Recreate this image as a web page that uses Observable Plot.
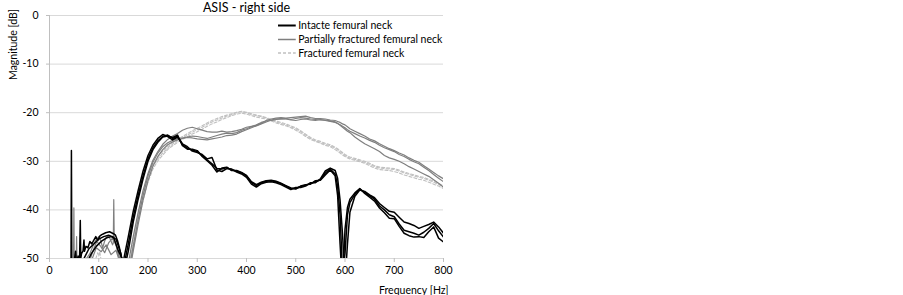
<!DOCTYPE html>
<html>
<head>
<meta charset="utf-8">
<script src="https://cdn.jsdelivr.net/npm/d3@7"></script>
<script src="https://cdn.jsdelivr.net/npm/@observablehq/plot@0.6"></script>
<style>
  html, body { margin: 0; padding: 0; background: #fff; }
  svg { font-family: Lato, "Open Sans", sans-serif; }
</style>
</head>
<body>
<div id="chart"></div>
<script>
const titleText = "ASIS - right side";
const yLabel = "Magnitude [dB]";
const xLabel = "Frequency [Hz]";
const legendLabels = ["Intacte femural neck", "Partially fractured femural neck", "Fractured femural neck"];
const xTicks = [0, 100, 200, 300, 400, 500, 600, 700, 800];
const yTicks = [0, -10, -20, -30, -40, -50];

// shared frequency grid (Hz) for the main part of every curve
const freqMain = [150,160,170,180,190,200,210,220,230,240,250,260,270,280,290,300,310,320,330,340,350,360,370,380,390,400,410,420,430,440,450,460,470,480,490,500,510,520,530,540,550,560,570,580,585,590,595,600,605,610,620,630,640,650,660,670,680,690,700,710,720,730,740,750,760,770,780,790,800];

// Intact femoral neck (3 measurements)
const intact1 = [-52,-47,-41.5,-37,-33,-29.5,-27.2,-25.8,-24.9,-24.6,-25.3,-24.8,-26.6,-27.3,-27.7,-28.0,-28.8,-29.7,-30.5,-31.5,-31.6,-31.3,-31.8,-32.0,-32.4,-33.0,-34.4,-35.0,-34.4,-34.1,-34.0,-34.2,-34.6,-35.1,-35.6,-35.6,-35.2,-34.9,-34.6,-34.2,-33.8,-32.4,-31.6,-32.6,-35,-41,-53,-49,-41,-38.5,-36.8,-35.7,-36.4,-37.1,-37.8,-39.2,-40.0,-41.0,-41.4,-42.9,-44.2,-44.5,-44.8,-45.2,-44.6,-43.8,-42.8,-44.3,-45.6];
const intact2 = [-50.5,-45.5,-40.3,-36,-32,-28.8,-26.7,-25.3,-24.5,-24.9,-25.6,-25.0,-26.4,-27.0,-27.9,-28.2,-28.6,-29.5,-29.2,-31.8,-32.1,-31.5,-31.6,-32.2,-32.6,-33.3,-34.7,-35.3,-34.6,-34.3,-34.2,-34.4,-34.8,-35.3,-35.8,-35.4,-35.4,-35.1,-34.4,-34.4,-33.6,-32.0,-31.4,-31.9,-33.5,-38,-45,-55,-47,-40.5,-37.2,-35.9,-36.2,-36.9,-37.5,-38.7,-39.5,-40.3,-40.5,-41.5,-42.5,-42.8,-43.2,-43.8,-43.4,-43.0,-42.5,-43.5,-44.8];
const intact3 = [-53,-48.5,-42.5,-37.8,-33.6,-30.0,-27.6,-26.1,-25.0,-24.8,-25.1,-24.6,-26.8,-27.5,-27.5,-27.8,-29.0,-29.9,-30.8,-32.2,-31.4,-31.2,-31.9,-31.9,-32.3,-32.9,-34.2,-34.8,-34.3,-34.0,-33.9,-34.1,-34.5,-35.0,-35.5,-35.7,-35.1,-34.8,-34.7,-34.0,-33.9,-32.8,-31.8,-33.0,-37,-47,-56,-44,-39.5,-37.8,-36.5,-35.6,-36.6,-37.4,-38.2,-39.6,-40.6,-41.7,-41.8,-43.4,-44.8,-45.3,-45.6,-45.5,-45.7,-44.5,-43.5,-45.8,-46.6];

// Partially fractured femoral neck (3 measurements)
const partial1 = [-56,-51,-45.5,-40.5,-36,-32.5,-29.8,-28,-26.5,-25.5,-24.8,-24.3,-23.6,-23.2,-23.0,-23.3,-23.6,-23.9,-24.0,-24.0,-23.8,-24.0,-23.9,-23.7,-23.4,-23.0,-22.8,-22.6,-22.2,-21.6,-21.3,-21.1,-21.0,-21.1,-21.0,-20.9,-20.8,-20.7,-21.0,-21.2,-21.2,-21.3,-21.5,-21.6,-21.8,-22.0,-22.3,-22.5,-22.9,-23.3,-23.8,-24.3,-24.8,-25.4,-25.8,-26.4,-26.9,-27.4,-27.8,-28.3,-28.7,-29.3,-29.8,-30.2,-30.9,-31.6,-32.3,-33.0,-33.6];
const partial2 = [-57,-53,-47.5,-42,-37,-33,-30.2,-28.3,-27.0,-26.2,-25.7,-25.4,-25.2,-25.0,-24.8,-24.9,-25.1,-25.3,-25.0,-24.7,-24.4,-24.2,-24.3,-24.1,-23.6,-23.3,-22.9,-22.5,-22.0,-21.7,-21.6,-21.4,-21.3,-21.2,-21.4,-21.2,-21.0,-21.1,-21.3,-21.4,-21.5,-21.6,-21.8,-22.0,-22.2,-22.5,-22.8,-23.1,-23.5,-23.8,-24.3,-24.8,-25.2,-25.7,-26.1,-26.7,-27.2,-27.6,-28.0,-28.6,-29.0,-29.6,-30.1,-30.5,-31.2,-31.9,-32.7,-33.5,-34.2];
const partial3 = [-58,-54,-48.5,-43,-38,-34,-31,-29,-27.6,-26.6,-26.0,-25.6,-25.3,-25.1,-25.2,-25.4,-25.5,-25.6,-25.4,-25.2,-25.0,-24.7,-24.6,-24.4,-23.9,-23.5,-23.1,-22.7,-22.3,-21.9,-21.5,-21.3,-21.2,-21.3,-21.5,-21.6,-21.4,-21.3,-21.5,-21.6,-21.4,-21.5,-21.7,-21.9,-22.2,-22.6,-23.0,-23.4,-23.8,-24.1,-25.0,-25.7,-26.4,-26.9,-27.4,-28.0,-28.8,-29.3,-29.6,-30.0,-30.5,-31.1,-31.6,-32.1,-32.6,-33.1,-33.8,-34.5,-35.3];

// Fractured femoral neck (3 measurements)
const fractured1 = [-58,-53,-47,-41.5,-37,-33.5,-31,-29.5,-28.3,-27.3,-26.5,-25.8,-25.2,-24.6,-24.0,-23.5,-23.0,-22.4,-21.9,-21.5,-21.1,-20.7,-20.4,-20.0,-19.8,-20.0,-20.4,-20.6,-20.8,-21.1,-21.5,-21.9,-22.2,-22.5,-22.9,-23.3,-23.9,-24.6,-25.3,-25.8,-26.1,-26.5,-26.8,-27.3,-27.6,-28.0,-28.4,-28.8,-29.1,-29.3,-29.6,-29.9,-30.2,-30.6,-31.1,-31.4,-31.5,-31.6,-31.7,-32.0,-32.4,-32.7,-33.0,-33.3,-33.5,-33.9,-34.3,-34.8,-35.3];
const fractured2 = [-58,-54,-48,-42.5,-38,-34.3,-31.6,-29.9,-28.7,-27.6,-26.8,-26.1,-25.5,-24.9,-24.4,-23.9,-23.4,-22.8,-22.3,-21.9,-21.4,-21.0,-20.6,-20.3,-20.1,-20.3,-20.6,-20.9,-21.1,-21.3,-21.7,-22.1,-22.4,-22.7,-23.1,-23.6,-24.2,-24.9,-25.5,-25.9,-26.3,-26.7,-27.0,-27.6,-27.9,-28.3,-28.7,-29.0,-29.3,-29.5,-29.8,-30.1,-30.4,-30.9,-31.4,-31.7,-31.8,-31.9,-32.1,-32.4,-32.8,-33.1,-33.4,-33.7,-33.9,-34.3,-34.7,-35.1,-35.6];
const fractured3 = [-57,-52.5,-46.5,-41,-36.5,-33,-30.6,-29.1,-27.9,-27.0,-26.2,-25.5,-24.9,-24.3,-23.7,-23.2,-22.7,-22.1,-21.6,-21.2,-20.8,-20.5,-20.2,-19.9,-19.7,-19.9,-20.2,-20.5,-20.7,-21.0,-21.4,-21.7,-22.0,-22.3,-22.7,-23.1,-23.7,-24.4,-25.1,-25.6,-25.9,-26.3,-26.6,-27.1,-27.4,-27.8,-28.2,-28.6,-28.9,-29.1,-29.4,-29.7,-30.0,-30.4,-30.9,-31.2,-31.3,-31.4,-31.5,-31.8,-32.2,-32.5,-32.8,-33.1,-33.3,-33.7,-34.1,-34.6,-35.0];

// low-frequency (noisy) parts below 150 Hz
const lfFreqIntact1 = [42,43.5,44.5,45.5,47,50,53,55,58,61,62.5,63.5,65,68,70,71,74,78,82,86,90,94,98,102,106,110,114,118,122,126,130,134,138,142,146];
const lfIntact1 = [-55,-55,-27.8,-55,-52,-50.5,-48.5,-51,-49.5,-50.5,-42.2,-50,-49,-48.5,-46.2,-48.5,-47.5,-47.8,-46.5,-47,-46.2,-45.5,-46.3,-45.4,-45.1,-44.9,-44.7,-44.6,-44.5,-44.7,-44.9,-45.2,-46.3,-47.8,-49.6];
const lfFreqIntact2 = [60,70,80,90,100,110,120,130,140];
const lfIntact2 = [-52,-50,-48,-47,-46,-45.5,-45.2,-45.6,-48.5];
const lfFreqIntact3 = [75,85,95,105,115,125,135,145];
const lfIntact3 = [-51,-49,-47.5,-46.5,-45.8,-45.5,-46,-49];
const lfFreqPartial1 = [47,48.5,49.5,50.5,52,54,55,56,58,65,75,82,88,94,100,104,108,112,116,120,124,128,129.5,130.5,131.5,134,138,142,146];
const lfPartial1 = [-55,-55,-39.6,-55,-52,-53,-45.5,-53,-52,-51.5,-50,-49,-47.5,-46.2,-45.5,-46.3,-47.8,-46.4,-45.6,-45.3,-46.2,-47.2,-46.8,-37.9,-46.5,-46.8,-48.5,-50.3,-52];
const lfFreqPartial2 = [80,88,96,104,112,120,128,136,144];
const lfPartial2 = [-51,-48.5,-46.5,-47.5,-48.8,-46.8,-45.8,-47.5,-50.5];
const lfFreqPartial3 = [85,95,105,115,125,135,145];
const lfPartial3 = [-50.5,-47.8,-48.6,-47.2,-49.2,-48.3,-51.5];
const lfFreqFractured1 = [88,94,98,100,102,106,112];
const lfFractured1 = [-52,-50,-48.8,-49.5,-48.6,-51,-53];

const curves = [
  {id: "i1", group: 0, lfF: lfFreqIntact1, lfV: lfIntact1, v: intact1},
  {id: "i2", group: 0, lfF: lfFreqIntact2, lfV: lfIntact2, v: intact2},
  {id: "i3", group: 0, lfF: lfFreqIntact3, lfV: lfIntact3, v: intact3},
  {id: "p1", group: 1, lfF: lfFreqPartial1, lfV: lfPartial1, v: partial1},
  {id: "p2", group: 1, lfF: lfFreqPartial2, lfV: lfPartial2, v: partial2},
  {id: "p3", group: 1, lfF: lfFreqPartial3, lfV: lfPartial3, v: partial3},
  {id: "f1", group: 2, lfF: lfFreqFractured1, lfV: lfFractured1, v: fractured1},
  {id: "f2", group: 2, lfF: [], lfV: [], v: fractured2},
  {id: "f3", group: 2, lfF: [], lfV: [], v: fractured3}
];

const rows = curves.flatMap(c => [
  ...c.lfF.map((f, i) => ({curve: c.id, group: c.group, f, db: c.lfV[i]})),
  ...freqMain.map((f, i) => ({curve: c.id, group: c.group, f, db: c.v[i]}))
]);

const colors = ["#000000", "#7f7f7f", "#c0c0c0"];
const widths = [1.5, 1.2, 1.1];
const dashes = [null, null, "3,2"];

const lineFor = g => Plot.line(rows.filter(d => d.group === g), {
  x: "f", y: "db", z: "curve", stroke: colors[g], strokeWidth: widths[g],
  strokeDasharray: dashes[g], clip: true, curve: "linear"
});

const fmt = d => String(d);

const plot = Plot.plot({
  width: 903,
  height: 295,
  marginLeft: 49,
  marginRight: 460,
  marginTop: 15,
  marginBottom: 37,
  style: {fontFamily: "Lato, 'Open Sans', sans-serif", fontSize: "10.5px", color: "#000", background: "#fff"},
  x: {domain: [0, 800]},
  y: {domain: [-50, 0]},
  marks: [
    Plot.gridY({ticks: yTicks, stroke: "#d9d9d9", strokeOpacity: 1}),
    Plot.ruleX([0], {stroke: "#bfbfbf"}),
    Plot.axisY({ticks: yTicks, tickFormat: fmt, tickSize: 3, tickPadding: 8, stroke: "#bfbfbf", label: null, fontSize: 10.5}),
    Plot.axisX({ticks: xTicks, tickFormat: fmt, tickSize: 4, tickPadding: 4, stroke: "#bfbfbf", label: null, fontSize: 10.5}),
    lineFor(2),
    lineFor(1),
    lineFor(0),
    Plot.text([titleText], {frameAnchor: "top", dy: -8, lineAnchor: "middle", fontSize: 12.5}),
    Plot.text([yLabel], {frameAnchor: "top-left", dx: -36, dy: 29, rotate: -90, textAnchor: "middle", lineAnchor: "middle", fontSize: 10.5}),
    Plot.text([xLabel], {frameAnchor: "bottom-right", dx: 5, dy: 32, textAnchor: "end", lineAnchor: "middle", fontSize: 10.5})
  ]
});

// legend inside the plot area (top right)
const svg = d3.select(plot);
const xs = plot.scale("x");
const lx0 = xs.apply(465), lx1 = xs.apply(501);
const legendY = [25.5, 39.5, 53];
const lg = svg.append("g").attr("text-anchor", "start");
legendLabels.forEach((label, i) => {
  lg.append("line").attr("x1", lx0).attr("x2", lx1).attr("y1", legendY[i]).attr("y2", legendY[i])
    .attr("stroke", colors[i]).attr("stroke-width", i === 0 ? 2 : 1.5)
    .attr("stroke-dasharray", dashes[i]);
  lg.append("text").attr("x", lx1 + 2.5).attr("y", legendY[i]).attr("dy", "0.35em")
    .attr("text-anchor", "start").attr("font-size", 10.5).attr("fill", "#000").text(label);
});

document.getElementById("chart").appendChild(plot);
</script>
</body>
</html>
